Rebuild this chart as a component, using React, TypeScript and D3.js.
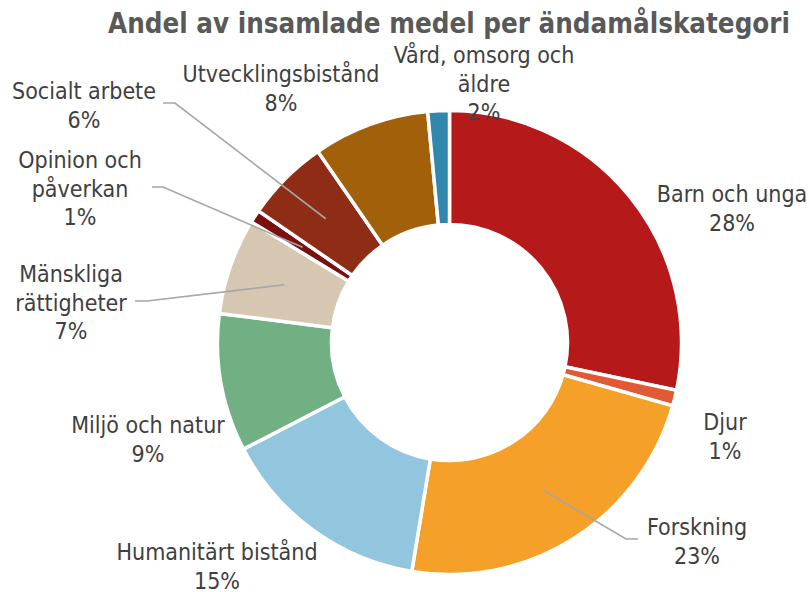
import React from "react";
import * as d3 from "d3";

const categories = [
  "Barn och unga",
  "Djur",
  "Forskning",
  "Humanitärt bistånd",
  "Miljö och natur",
  "Mänskliga rättigheter",
  "Opinion och påverkan",
  "Socialt arbete",
  "Utvecklingsbistånd",
  "Vård, omsorg och äldre",
];
const values = [28.3, 1.1, 23.2, 14.8, 9.6, 6.7, 0.9, 5.8, 8.1, 1.5];
const pctLabels = ["28%", "1%", "23%", "15%", "9%", "7%", "1%", "6%", "8%", "2%"];
const labelLines = [
  ["Barn och unga"],
  ["Djur"],
  ["Forskning"],
  ["Humanitärt bistånd"],
  ["Miljö och natur"],
  ["Mänskliga", "rättigheter"],
  ["Opinion och", "påverkan"],
  ["Socialt arbete"],
  ["Utvecklingsbistånd"],
  ["Vård, omsorg och", "äldre"],
];
const colors = [
  "#B5191A",
  "#E05A35",
  "#F5A028",
  "#92C6DE",
  "#71B083",
  "#D6C7B2",
  "#7A1010",
  "#8F2C15",
  "#A3600A",
  "#3288AC",
];
const title = "Andel av insamlade medel per ändamålskategori";

// layout (label anchor: center x, first baseline y; optional leader elbow)
const layout: { x: number; y: number; elbow?: [number, number][] }[] = [
  { x: 732, y: 202 },
  { x: 725, y: 430 },
  { x: 697, y: 535, elbow: [[638, 539], [626, 539]] },
  { x: 217, y: 560 },
  { x: 148, y: 433 },
  { x: 71, y: 282, elbow: [[135, 301], [147, 301]] },
  { x: 80, y: 168, elbow: [[152, 187], [163, 187]] },
  { x: 84, y: 99, elbow: [[163, 103], [175, 103]] },
  { x: 281, y: 82 },
  { x: 484, y: 63 },
];

const W = 809;
const H = 592;
const cx = 449.5;
const cy = 342.5;
const rOuter = 232;
const rInner = 118;
const lineH = 28.5;
const FONT = "'DejaVu Sans Condensed', 'DejaVu Sans', sans-serif";

export default function App() {
  const pie = d3
    .pie<number>()
    .sort(null)
    .value((d) => d)
    .startAngle(0)
    .endAngle(2 * Math.PI);
  const arcs = pie(values);
  const arc = d3.arc<d3.PieArcDatum<number>>().innerRadius(rInner).outerRadius(rOuter);
  const line = d3.line();

  return (
    <svg
      width={W}
      height={H}
      style={{ position: "absolute", left: 0, top: 0, background: "#fff" }}
    >
      <text
        x={449}
        y={33}
        textAnchor="middle"
        fontFamily={FONT}
        fontWeight="bold"
        fontSize={28}
        fill="#595959"
        textLength={682}
        lengthAdjust="spacingAndGlyphs"
      >
        {title}
      </text>
      <g transform={`translate(${cx},${cy})`}>
        {arcs.map((a, i) => (
          <path
            key={categories[i]}
            d={arc(a) || ""}
            fill={colors[i]}
            stroke="#fff"
            strokeWidth={3.5}
          />
        ))}
      </g>
      {arcs.map((a, i) => {
        const L = layout[i];
        if (!L.elbow) return null;
        const c = arc.centroid(a);
        const pts: [number, number][] = [...L.elbow, [c[0] + cx, c[1] + cy]];
        return (
          <path
            key={"l" + i}
            d={line(pts) || ""}
            fill="none"
            stroke="#A6A6A6"
            strokeWidth={1.6}
          />
        );
      })}
      {categories.map((cat, i) => {
        const L = layout[i];
        const lines = [...labelLines[i], pctLabels[i]];
        return (
          <text
            key={"t" + cat}
            x={L.x}
            y={L.y}
            textAnchor="middle"
            fontFamily={FONT}
            fontSize={23}
            fill="#404040"
          >
            {lines.map((ln, j) => (
              <tspan key={j} x={L.x} y={L.y + j * lineH}>
                {ln}
              </tspan>
            ))}
          </text>
        );
      })}
    </svg>
  );
}
